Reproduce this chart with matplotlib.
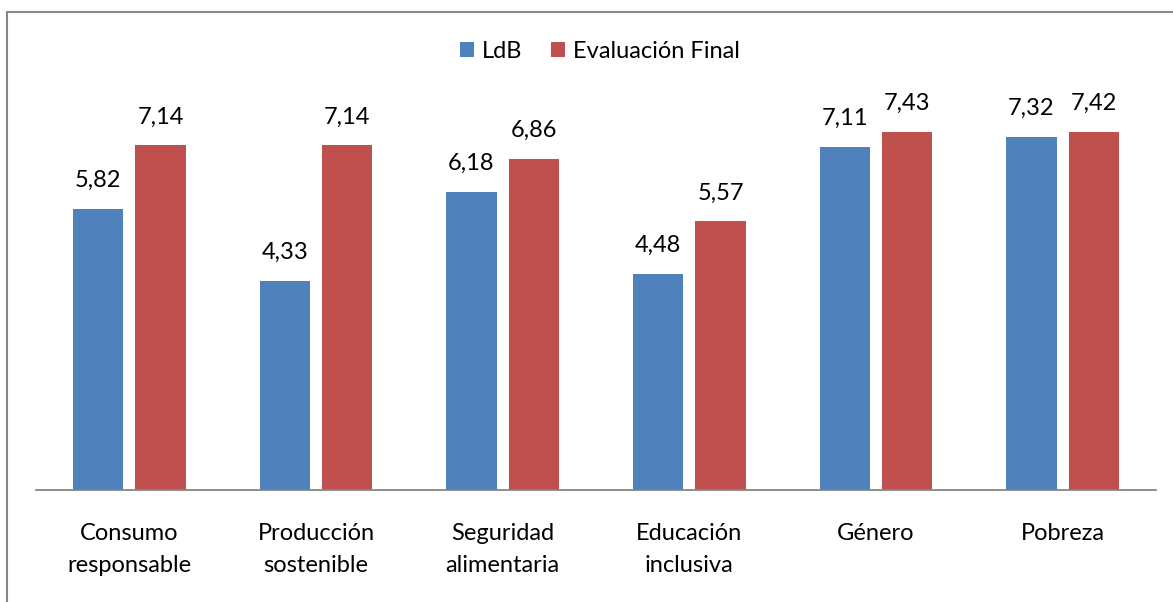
import numpy as np
from matplotlib import pyplot as plt
from matplotlib.patches import Rectangle

categorias = ['Consumo\nresponsable', 'Producción\nsostenible', 'Seguridad\nalimentaria',
              'Educación\ninclusiva', 'Género', 'Pobreza']
ldb = [5.82, 4.33, 6.18, 4.48, 7.11, 7.32]
final = [7.14, 7.14, 6.86, 5.57, 7.43, 7.42]
series = ['LdB', 'Evaluación Final']

W, H = 1173, 602
plt.rcParams['font.family'] = ['Lato', 'DejaVu Sans']
fig = plt.figure(figsize=(W / 100, H / 100), dpi=100)

# plot area in pixels: left 36, right 1156, bottom 490, top 104
ax = fig.add_axes([36 / W, 1 - 490 / H, 1120 / W, 386 / H])
x = np.arange(len(categorias))
w = 0.268
b1 = ax.bar(x - 0.167, ldb, w, color='#4F81BD', label=series[0])
b2 = ax.bar(x + 0.167, final, w, color='#C0504D', label=series[1])

for bars, vals in ((b1, ldb), (b2, final)):
    for r, v in zip(bars, vals):
        ax.text(r.get_x() + r.get_width() / 2, v + 0.37, f'{v:.2f}'.replace('.', ','),
                ha='center', va='bottom', fontsize=17)

ax.set_xlim(-0.5, len(categorias) - 0.5)
ax.set_ylim(0, 8)
ax.set_xticks(x)
ax.set_xticklabels(categorias, fontsize=17, linespacing=1.6)
ax.tick_params(axis='x', length=0, pad=24)
ax.set_yticks([])
for s in ['top', 'right', 'left']:
    ax.spines[s].set_visible(False)
ax.spines['bottom'].set_color('#868686')
ax.spines['bottom'].set_linewidth(1.3)

fig.legend(handles=[b1, b2], loc='center', bbox_to_anchor=(600 / W, 1 - 51 / H),
           ncol=2, frameon=False, fontsize=17, handlelength=0.6, handleheight=0.6,
           handletextpad=0.35, columnspacing=1.2)

# chart border (left and top visible)
fig.patches.append(Rectangle((6.5 / W, -0.05), 1.1, 1.05 - 11.5 / H,
                             transform=fig.transFigure, fill=False,
                             edgecolor='#888888', linewidth=1.5, clip_on=False))

plt.savefig('out.png', dpi=100)
